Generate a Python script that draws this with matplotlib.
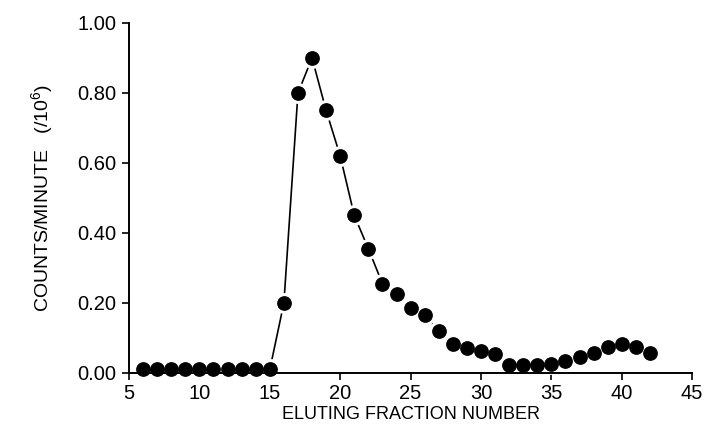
import matplotlib
matplotlib.use("Agg")
import matplotlib.pyplot as plt

# fraction number vs counts/minute (x 10^6)
fractions = list(range(6, 43))
counts = [
    0.010, 0.010, 0.010, 0.010, 0.010, 0.010, 0.010, 0.010, 0.010, 0.010,  # 6-15
    0.200, 0.800, 0.900, 0.750, 0.620, 0.450, 0.355, 0.255, 0.225, 0.185,  # 16-25
    0.165, 0.120, 0.082, 0.070, 0.062, 0.054, 0.023, 0.023, 0.023, 0.025,  # 26-35
    0.035, 0.047, 0.056, 0.073, 0.083, 0.073, 0.056,                       # 36-42
]
x_ticks = [5, 10, 15, 20, 25, 30, 35, 40, 45]
y_ticks = [0.0, 0.2, 0.4, 0.6, 0.8, 1.0]

plt.rcParams["font.family"] = ["Liberation Sans", "DejaVu Sans"]
plt.rcParams["mathtext.default"] = "regular"

fig = plt.figure(figsize=(7.07, 4.30), dpi=100)
ax = fig.add_axes([0.1825, 0.1326, 0.7965, 0.814])

# line first, then white halos so the line stops short of each dot
ax.plot(fractions, counts, color="black", linewidth=1.2, zorder=1, clip_on=False)
ax.plot(fractions, counts, linestyle="none", marker="o", markersize=14,
        color="white", zorder=2, clip_on=False)
ax.plot(fractions, counts, linestyle="none", marker="o", markersize=9.6,
        color="black", zorder=3, clip_on=False)

ax.set_xlim(5, 45)
ax.set_ylim(0, 1.0)
ax.set_xticks(x_ticks)
ax.set_yticks(y_ticks)
ax.set_yticklabels(["%.2f" % v for v in y_ticks])

for side in ["top", "right"]:
    ax.spines[side].set_visible(False)
for side in ["left", "bottom"]:
    ax.spines[side].set_linewidth(1.4)

ax.tick_params(direction="out", length=5, width=1.2, labelsize=14.5, pad=3)
ax.tick_params(axis="y", pad=4)

ax.set_xlabel("ELUTING FRACTION NUMBER", fontsize=13, labelpad=2)
ax.set_ylabel("COUNTS/MINUTE   (/10$^{6}$)", fontsize=14, labelpad=16)

fig.savefig("out.png", dpi=100)
